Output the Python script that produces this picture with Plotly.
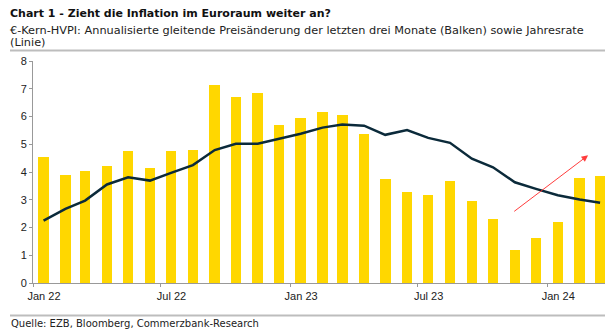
import plotly.graph_objects as go
import pandas as pd

# Months (Jan 2022 - Mar 2024)
months = pd.date_range("2022-01-01", periods=27, freq="MS")
# Annualised 3-month change (bars)
bar_values = [4.53, 3.90, 4.04, 4.21, 4.74, 4.13, 4.74, 4.81, 7.12, 6.72, 6.84, 5.70,
              5.94, 6.18, 6.07, 5.38, 3.73, 3.28, 3.16, 3.66, 2.97, 2.32, 1.18, 1.62,
              2.21, 3.80, 3.85]
# Annual rate (line)
line_values = [2.25, 2.67, 2.97, 3.55, 3.81, 3.69, 3.97, 4.25, 4.79, 5.02, 5.02, 5.20,
               5.38, 5.60, 5.71, 5.67, 5.34, 5.51, 5.23, 5.05, 4.48, 4.17, 3.63, 3.39,
               3.16, 3.01, 2.89]
tick_dates = ["2022-01-01", "2022-07-01", "2023-01-01", "2023-07-01", "2024-01-01"]
tick_labels = ["Jan 22", "Jul 22", "Jan 23", "Jul 23", "Jan 24"]
arrow_start = ("2023-11-13", 2.54)
arrow_end = ("2024-02-28", 4.60)

mid = months + pd.Timedelta(days=15)

fig = go.Figure()
fig.add_trace(go.Bar(x=mid, y=bar_values, width=15 * 86400000,
                     marker=dict(color="#FFD700", line=dict(width=0)),
                     showlegend=False))
fig.add_trace(go.Scatter(x=mid, y=line_values, mode="lines",
                         line=dict(color="#0b2a3a", width=2.5),
                         showlegend=False))

fig.add_annotation(x=arrow_end[0], y=arrow_end[1], ax=arrow_start[0], ay=arrow_start[1],
                   xref="x", yref="y", axref="x", ayref="y", text="",
                   showarrow=True, arrowhead=2, arrowsize=1.3, arrowwidth=1,
                   arrowcolor="rgba(255,40,40,0.9)")

H = 222.0
def py(pix):
    return (283.0 - pix) / H
def px(pix):
    return (pix - 33.0) / 572.0

title_font = "DejaVu Sans"
fig.add_annotation(x=px(8), y=py(13.5), xref="paper", yref="paper", xanchor="left",
                   yanchor="middle", showarrow=False,
                   text="<b>Chart 1 - Zieht die Inflation im Euroraum weiter an?</b>",
                   font=dict(family=title_font, size=11, color="#111"))
fig.add_annotation(x=px(8), y=py(30.3), xref="paper", yref="paper", xanchor="left",
                   yanchor="middle", showarrow=False,
                   text="€-Kern-HVPI: Annualisierte gleitende Preisänderung der letzten drei Monate (Balken) sowie Jahresrate",
                   font=dict(family=title_font, size=11.3, color="#222"))
fig.add_annotation(x=px(8), y=py(42), xref="paper", yref="paper", xanchor="left",
                   yanchor="middle", showarrow=False, text="(Linie)",
                   font=dict(family=title_font, size=11.3, color="#222"))
fig.add_annotation(x=px(9), y=py(323.5), xref="paper", yref="paper", xanchor="left",
                   yanchor="middle", showarrow=False,
                   text="Quelle: EZB, Bloomberg, Commerzbank-Research",
                   font=dict(family=title_font, size=10, color="#222"))

for ypix in (50.5, 315.5):
    fig.add_shape(type="line", xref="paper", yref="paper", x0=px(10), x1=px(605),
                  y0=py(ypix), y1=py(ypix), line=dict(color="#bdbdbd", width=2))

fig.update_layout(
    width=605, height=336, margin=dict(l=33, r=0, t=61, b=53),
    plot_bgcolor="white", paper_bgcolor="white", bargap=0,
    font=dict(family="Liberation Sans, Arial", size=11, color="#222"),
    xaxis=dict(type="date", range=["2022-01-01", "2024-03-23"],
               tickvals=tick_dates, ticktext=tick_labels, ticklabelshift=11,
               showline=True, linecolor="#999", linewidth=1, ticks="outside",
               ticklen=3, tickcolor="#999", showgrid=False, zeroline=False),
    yaxis=dict(range=[0, 8], dtick=1, showline=True, linecolor="#999", linewidth=1,
               ticks="outside", ticklen=3, tickcolor="#999", showgrid=False,
               zeroline=False),
)

fig.write_html("out.html")
